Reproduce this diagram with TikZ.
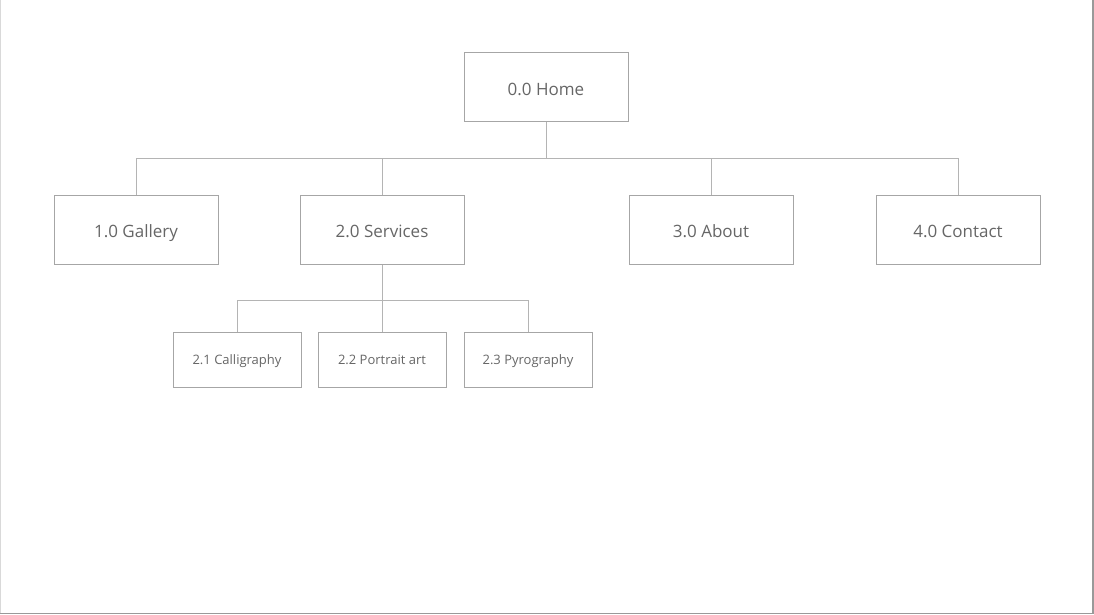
\documentclass[tikz,border=0pt]{standalone}
\usepackage{fontspec}
\setmainfont{Open Sans}
\definecolor{boxc}{HTML}{A6A6A6}
\definecolor{linec}{HTML}{B4B4B4}
\definecolor{txtc}{HTML}{666666}
\begin{document}
\begin{tikzpicture}[x=1pt,y=-1pt,
  big/.style={draw=boxc,line width=1pt,minimum width=164pt,minimum height=69pt,inner sep=0pt,
    text=txtc,font=\fontsize{17}{20}\selectfont,text height=16.5pt,text depth=0pt},
  small/.style={draw=boxc,line width=1pt,minimum width=128pt,minimum height=55pt,inner sep=0pt,
    text=txtc,font=\fontsize{13}{15}\selectfont,text height=10.5pt,text depth=0.5pt},
  conn/.style={draw=linec,line width=1pt}]
\useasboundingbox (0,0) rectangle (1094,615);
\draw[draw=black!15,line width=1pt] (0.5,0) -- (0.5,614);
\draw[draw=black!40,line width=1.5pt] (0,613.5) -- (1093,613.5) -- (1093,0);
\node[big] (home) at (546,87.5) {0.0 Home};
\node[big] (gallery) at (136,229.5) {1.0 Gallery};
\node[big] (services) at (382,229.5) {2.0 Services};
\node[big] (about) at (711,229.5) {3.0 About};
\node[big] (contact) at (958,229.5) {4.0 Contact};
\node[small] (calli) at (237,359.5) {2.1 Calligraphy};
\node[small] (portrait) at (382,359.5) {2.2 Portrait art};
\node[small] (pyro) at (528,359.5) {2.3 Pyrography};
\coordinate (bus1) at (546,158.5);
\coordinate (bus2) at (382,300.5);
\draw[conn] (home.south) -- (bus1);
\draw[conn] (gallery.north) |- (contact.north |- bus1) -- (contact.north);
\draw[conn] (services.north) -- (services.north |- bus1);
\draw[conn] (about.north) -- (about.north |- bus1);
\draw[conn] (services.south) -- (portrait.north);
\draw[conn] (calli.north) |- (pyro.north |- bus2) -- (pyro.north);
\end{tikzpicture}
\end{document}
